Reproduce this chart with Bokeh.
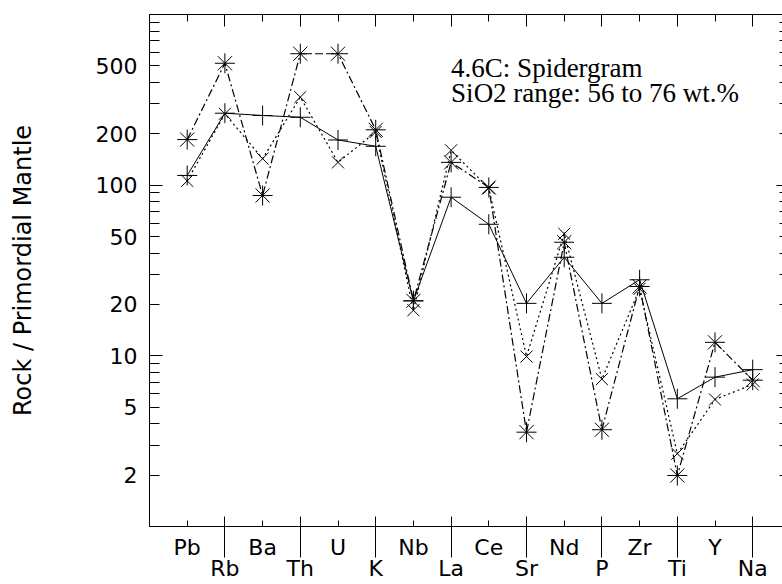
from bokeh.plotting import figure
from bokeh.models import Range1d, LogAxis, LinearAxis, FixedTicker, Label, ColumnDataSource
from bokeh.embed import file_html
from bokeh.resources import INLINE

# ---- data ----
elements = ["Pb", "Rb", "Ba", "Th", "U", "K", "Nb", "La",
            "Ce", "Sr", "Nd", "P", "Zr", "Ti", "Y", "Na"]
positions = list(range(1, len(elements) + 1))

series_plus = [114, 264, 256, 250, 184, 169, 21.0, 85, 59, 20.3, 37.8, 20.3, 27.9, 5.6, 7.5, 8.3]
series_x = [106, 262, 143, 328, 136, 205, 18.5, 160, 96, 9.9, 51.9, 7.3, 24.7, 2.67, 5.55, 6.8]
series_star = [185, 518, 87, 589, 589, 211, 21.0, 136, 97, 3.57, 46.3, 3.69, 25.5, 1.99, 12.0, 7.2]

y_tick_values = [2, 5, 10, 20, 50, 100, 200, 500]
y_tick_labels = ["2", "5", "10", "20", "50", "100", "200", "500"]
decades = [1, 10, 100, 1000]
minor_log = [m * d for d in (1, 10, 100) for m in range(2, 10)]

title_lines = ["4.6C: Spidergram", "SiO2 range: 56 to 76 wt.%"]
y_label = "Rock / Primordial Mantle"

odd_pos = positions[0::2]
even_pos = positions[1::2]

SANS = "DejaVu Sans"
TICK_FS = "22px"

p = figure(width=782, height=584,
           x_range=Range1d(0, 16.79), y_range=Range1d(1, 1000),
           y_axis_type="log", output_backend="svg", toolbar_location=None,
           min_border_left=149, min_border_right=0, min_border_top=14, min_border_bottom=58)
p.outline_line_color = None
p.xgrid.visible = False
p.ygrid.visible = False
p.background_fill_color = "white"
p.border_fill_color = "white"

# bottom axis A: first row labels, short ticks (odd) and long separators (even)
ax_a = p.xaxis[0]
ax_a.ticker = FixedTicker(ticks=odd_pos, minor_ticks=even_pos)
ax_a.major_label_overrides = {i: elements[i - 1] for i in odd_pos}
ax_a.major_tick_in = 6
ax_a.major_tick_out = 0
ax_a.minor_tick_in = 10
ax_a.minor_tick_out = 31
ax_a.major_label_standoff = -23
ax_a.major_label_text_font = SANS
ax_a.major_label_text_font_size = TICK_FS
ax_a.major_label_text_color = "black"
ax_a.axis_line_color = "black"
ax_a.major_tick_line_color = "black"
ax_a.minor_tick_line_color = "black"

# bottom axis B: second row labels
ax_b = LinearAxis(ticker=FixedTicker(ticks=even_pos, minor_ticks=[]),
                  major_label_overrides={i: elements[i - 1] for i in even_pos},
                  major_tick_in=0, major_tick_out=0, minor_tick_in=0, minor_tick_out=0,
                  major_tick_line_color=None, minor_tick_line_color=None,
                  axis_line_color=None, major_label_standoff=-7,
                  major_label_text_font=SANS, major_label_text_font_size=TICK_FS,
                  major_label_text_color="black")
p.add_layout(ax_b, "below")

# left axis: tick marks only
ay_t = p.yaxis[0]
ay_t.ticker = FixedTicker(ticks=decades, minor_ticks=minor_log)
ay_t.major_label_overrides = {d: "" for d in decades}
ay_t.major_label_text_font_size = "0px"
ay_t.major_label_standoff = 0
ay_t.major_tick_in = 13
ay_t.major_tick_out = 0
ay_t.minor_tick_in = 10
ay_t.minor_tick_out = 0
ay_t.axis_line_color = "black"
ay_t.major_tick_line_color = "black"
ay_t.minor_tick_line_color = "black"

# left axis: labels
ay_l = LogAxis(ticker=FixedTicker(ticks=y_tick_values, minor_ticks=[]),
               major_label_overrides=dict(zip(y_tick_values, y_tick_labels)),
               major_tick_in=0, major_tick_out=0, minor_tick_in=0, minor_tick_out=0,
               major_tick_line_color=None, minor_tick_line_color=None,
               axis_line_color=None, major_label_standoff=12,
               major_label_text_font=SANS, major_label_text_font_size=TICK_FS,
               major_label_text_color="black",
               axis_label=y_label, axis_label_text_font=SANS,
               axis_label_text_font_size="24px", axis_label_text_font_style="normal",
               axis_label_text_color="black", axis_label_standoff=56)
p.add_layout(ay_l, "left")

# top axis: ticks only
ax_top = LinearAxis(ticker=FixedTicker(ticks=even_pos, minor_ticks=odd_pos),
                    major_label_overrides={i: "" for i in even_pos},
                    major_label_text_font_size="0px", major_label_standoff=0,
                    major_tick_in=12, major_tick_out=0, minor_tick_in=7, minor_tick_out=0,
                    axis_line_color="black")
p.add_layout(ax_top, "above")

# right axis: ticks only (frame edge lies at the window edge)
ay_r = LogAxis(ticker=FixedTicker(ticks=decades, minor_ticks=minor_log),
               major_label_overrides={d: "" for d in decades},
               major_label_text_font_size="0px", major_label_standoff=0,
               major_tick_in=6, major_tick_out=0, minor_tick_in=3, minor_tick_out=0,
               axis_line_color=None)
p.add_layout(ay_r, "right")

src = ColumnDataSource(dict(x=positions, plus=series_plus, xs=series_x, star=series_star))

p.line("x", "plus", source=src, line_color="black", line_width=1)
p.line("x", "xs", source=src, line_color="black", line_width=1.2, line_dash="2 3")
p.line("x", "star", source=src, line_color="black", line_width=1.2, line_dash="8 3 2 3")

p.scatter("x", "plus", source=src, marker="cross", size=20, line_color="black", line_width=1)
p.scatter("x", "xs", source=src, marker="x", size=17, line_color="black", line_width=1)
p.scatter("x", "star", source=src, marker="asterisk", size=20, line_color="black", line_width=1)

p.add_layout(Label(x=8, y=489, text=title_lines[0], text_font="Liberation Serif",
                   text_font_size="27px", text_baseline="alphabetic", text_align="left",
                   text_color="black"))
p.add_layout(Label(x=8, y=349, text=title_lines[1], text_font="Liberation Serif",
                   text_font_size="27px", text_baseline="alphabetic", text_align="left",
                   text_color="black"))

open("out.html", "w").write(file_html(p, INLINE))
